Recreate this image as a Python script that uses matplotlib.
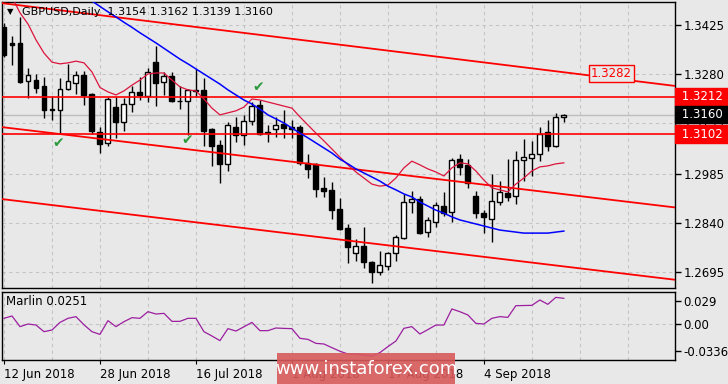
import matplotlib
matplotlib.use("Agg")
import matplotlib.pyplot as plt
import matplotlib.transforms as mtransforms
from matplotlib.patches import Rectangle
import numpy as np

# GBPUSD daily candles, 12 Jun 2018 .. 18 Sep 2018
opens = [1.3418, 1.3371, 1.3372, 1.3259, 1.3262, 1.3244, 1.3175, 1.3173, 1.3236, 1.3253,
         1.3277, 1.3221, 1.3108, 1.3076, 1.3182, 1.3138, 1.3191, 1.3227, 1.3215, 1.3315,
         1.3256, 1.3274, 1.3201, 1.3200, 1.3233, 1.3233, 1.3117, 1.3070, 1.3014, 1.3123,
         1.3099, 1.3141, 1.3188, 1.3108, 1.3117, 1.3132, 1.3123, 1.3123, 1.3017, 1.3014,
         1.2943, 1.2937, 1.2880, 1.2824, 1.2750, 1.2771, 1.2723, 1.2694, 1.2712, 1.2750,
         1.2794, 1.2901, 1.2910, 1.2812, 1.2842, 1.2889, 1.2872, 1.3028, 1.3011, 1.2919,
         1.2869, 1.2851, 1.2901, 1.2928, 1.2919, 1.3025, 1.3031, 1.3043, 1.3108, 1.3067,
         1.3154]
highs = [1.3430, 1.3392, 1.3449, 1.3298, 1.3280, 1.3271, 1.3215, 1.3268, 1.3310, 1.3289,
         1.3289, 1.3224, 1.3123, 1.3212, 1.3212, 1.3209, 1.3244, 1.3271, 1.3298, 1.3363,
         1.3286, 1.3286, 1.3244, 1.3236, 1.3295, 1.3268, 1.3120, 1.3085, 1.3138, 1.3153,
         1.3159, 1.3197, 1.3203, 1.3129, 1.3153, 1.3173, 1.3144, 1.3129, 1.3043, 1.3016,
         1.2975, 1.2960, 1.2913, 1.2836, 1.2792, 1.2827, 1.2726, 1.2756, 1.2753, 1.2803,
         1.2925, 1.2934, 1.2919, 1.2857, 1.2901, 1.2931, 1.3031, 1.3043, 1.3028, 1.2934,
         1.2877, 1.2984, 1.2963, 1.3028, 1.3052, 1.3088, 1.3082, 1.3123, 1.3144, 1.3165,
         1.3162]
lows = [1.3330, 1.3307, 1.3253, 1.3209, 1.3224, 1.3150, 1.3144, 1.3102, 1.3233, 1.3221,
        1.3188, 1.3102, 1.3046, 1.3067, 1.3091, 1.3111, 1.3167, 1.3203, 1.3197, 1.3185,
        1.3218, 1.3197, 1.3176, 1.3099, 1.3212, 1.3067, 1.3008, 1.2957, 1.2993, 1.3079,
        1.3070, 1.3129, 1.3099, 1.3079, 1.3094, 1.3091, 1.3091, 1.3011, 1.2972, 1.2916,
        1.2916, 1.2851, 1.2818, 1.2721, 1.2726, 1.2706, 1.2661, 1.2685, 1.2700, 1.2726,
        1.2792, 1.2869, 1.2806, 1.2797, 1.2827, 1.2860, 1.2842, 1.2981, 1.2943, 1.2854,
        1.2809, 1.2783, 1.2892, 1.2904, 1.2895, 1.2963, 1.2978, 1.3022, 1.3052, 1.3064,
        1.3139]
closes = [1.3336, 1.3366, 1.3256, 1.3277, 1.3239, 1.3173, 1.3172, 1.3236, 1.3259, 1.3277,
          1.3218, 1.3111, 1.3073, 1.3206, 1.3138, 1.3191, 1.3227, 1.3218, 1.3286, 1.3253,
          1.3274, 1.3200, 1.3199, 1.3233, 1.3230, 1.3111, 1.3067, 1.3014, 1.3129, 1.3099,
          1.3141, 1.3185, 1.3102, 1.3105, 1.3129, 1.3120, 1.3117, 1.3017, 1.2999, 1.2940,
          1.2934, 1.2877, 1.2821, 1.2768, 1.2771, 1.2723, 1.2694, 1.2715, 1.2750, 1.2797,
          1.2901, 1.2910, 1.2809, 1.2848, 1.2892, 1.2869, 1.3025, 1.3005, 1.2957, 1.2869,
          1.2857, 1.2904, 1.2931, 1.2916, 1.3025, 1.3034, 1.3043, 1.3102, 1.3067, 1.3153,
          1.3160]

# fast moving average (crimson), first bar not drawn
ma_fast = [np.nan, 1.3508, 1.3461, 1.3428, 1.3381, 1.3342, 1.3315, 1.3310, 1.3313, 1.3318,
           1.3313, 1.3286, 1.3240, 1.3227, 1.3218, 1.3230, 1.3247, 1.3262, 1.3280, 1.3283,
           1.3283, 1.3262, 1.3242, 1.3233, 1.3230, 1.3206, 1.3179, 1.3159, 1.3165, 1.3171,
           1.3182, 1.3206, 1.3203, 1.3197, 1.3191, 1.3185, 1.3179, 1.3153, 1.3129, 1.3105,
           1.3082, 1.3058, 1.3034, 1.3011, 1.2990, 1.2972, 1.2954, 1.2948, 1.2951, 1.2972,
           1.3002, 1.3022, 1.3011, 1.2999, 1.2990, 1.2978, 1.3002, 1.3017, 1.3014, 1.2993,
           1.2966, 1.2943, 1.2937, 1.2931, 1.2954, 1.2972, 1.2993, 1.3005, 1.3008, 1.3014,
           1.3017]
# slow moving average (blue), starts at bar 11
ma_slow_start = 11
ma_slow = [1.3496, 1.3480, 1.3464, 1.3449, 1.3433, 1.3418, 1.3402, 1.3387, 1.3372, 1.3356,
           1.3340, 1.3324, 1.3310, 1.3295, 1.3280, 1.3265, 1.3250, 1.3233, 1.3218, 1.3203,
           1.3191, 1.3176, 1.3159, 1.3147, 1.3135, 1.3120, 1.3105, 1.3091, 1.3076, 1.3061,
           1.3046, 1.3028, 1.3014, 1.2999, 1.2987, 1.2975, 1.2963, 1.2948, 1.2937, 1.2925,
           1.2916, 1.2901, 1.2889, 1.2877, 1.2868, 1.2857, 1.2848, 1.2842, 1.2836, 1.2830,
           1.2824, 1.2818, 1.2815, 1.2812, 1.2809, 1.2809, 1.2809, 1.2809, 1.2812, 1.2815]

# Marlin oscillator
marlin = [0.0071, 0.0100, -0.0033, 0.0000, -0.0013, -0.0096, -0.0075, 0.0020, 0.0071, 0.0092,
          -0.0010, -0.0096, -0.0130, 0.0042, -0.0033, 0.0029, 0.0079, 0.0071, 0.0154, 0.0125,
          0.0133, 0.0033, 0.0033, 0.0071, 0.0071, -0.0096, -0.0150, -0.0208, -0.0058, -0.0088,
          -0.0035, 0.0020, -0.0083, -0.0083, -0.0050, -0.0055, -0.0058, -0.0179, -0.0192, -0.0242,
          -0.0250, -0.0296, -0.0340, -0.0375, -0.0375, -0.0388, -0.0400, -0.0358, -0.0283, -0.0213,
          -0.0054, -0.0033, -0.0125, -0.0070, -0.0013, -0.0013, 0.0188, 0.0154, 0.0113, 0.0008,
          0.0000, 0.0071, 0.0092, 0.0083, 0.0229, 0.0231, 0.0233, 0.0300, 0.0246, 0.0333,
          0.0321]

# descending channel: prices at bar 0 and bar 80
channel_bars = [0, 80]
channel_top = [1.3489, 1.3256]
channel_mid = [1.3122, 1.2896]
channel_low = [1.2909, 1.2682]

level_high = 1.3212
level_low = 1.3102
last_price = 1.3160
channel_label = 1.3282

price_ticks = [1.3425, 1.3280, 1.3135, 1.2985, 1.2840, 1.2695]
marlin_ticks = [0.029, 0.0, -0.0336]
marlin_tick_labels = ['0.029', '0.00', '-0.0336']
date_bars = [0, 12, 24, 36, 48, 60]
date_labels = ['12 Jun 2018', '28 Jun 2018', '16 Jul 2018', '1 Aug 2018', '17 Aug 2018', '4 Sep 2018']

BG = '#e8e8e8'
GRID = '#c4c4c4'

W, H = 728, 384
fig = plt.figure(figsize=(W / 100, H / 100), dpi=100, facecolor=BG)
plt.rcParams['font.family'] = ['DejaVu Sans']

ax = fig.add_axes([2 / W, 1 - 288 / H, 673 / W, 286 / H], facecolor=BG)
axm = fig.add_axes([2 / W, 1 - 360 / H, 673 / W, 68 / H], facecolor=BG, sharex=ax)

x = np.arange(len(opens))
o = np.array(opens); c = np.array(closes)
up = c >= o

# grid
for a in (ax, axm):
    for xv in np.arange(0, 84, 6):
        a.axvline(xv, color=GRID, lw=0.8, ls=(0, (3, 3)), zorder=0)
for p in price_ticks:
    ax.axhline(p, color=GRID, lw=0.8, ls=(0, (3, 3)), zorder=0)
axm.axhline(0, color=GRID, lw=0.8, ls=(0, (3, 3)), zorder=0)

# levels and channel
ax.axhline(last_price, color='#bdbdbd', lw=1, zorder=1)
ax.axhline(level_high, color='red', lw=1.2, zorder=4)
ax.axhline(level_low, color='red', lw=1.2, zorder=4)
for line in (channel_top, channel_mid, channel_low):
    ax.axline((channel_bars[0], line[0]), (channel_bars[1], line[1]), color='red', lw=1.3, zorder=4)

# candles
ax.vlines(x, lows, highs, color='black', lw=1, zorder=2)
ax.bar(x[up], (c - o)[up], bottom=o[up], width=0.62, color='white', edgecolor='black', lw=1, zorder=3)
ax.bar(x[~up], (o - c)[~up], bottom=c[~up], width=0.62, color='black', edgecolor='black', lw=1, zorder=3)

# moving averages
ax.plot(x, ma_fast, color='#dc143c', lw=0.9, zorder=5)
ax.plot(np.arange(ma_slow_start, ma_slow_start + len(ma_slow)), ma_slow, color='#0000ff', lw=1.1, zorder=5)

# check marks
for bx, py in [(6.8, 1.3076), (22.9, 1.3085), (31.8, 1.3241)]:
    ax.text(bx, py, '\u2714', color='#2a9a3c', fontsize=10, ha='center', va='center', zorder=6)

ax.text(73.4, channel_label, '1.3282', color='red', fontsize=8.5, ha='left', va='center', zorder=6,
        bbox=dict(boxstyle='square,pad=0.15', facecolor=BG, edgecolor='red', lw=1))

ax.set_xlim(-0.25, 83.9)
ax.set_ylim(1.26465, 1.34931)
axm.set_ylim(-0.045, 0.040)

# right-hand scales
for a in (ax, axm):
    a.yaxis.tick_right()
    a.tick_params(axis='y', direction='out', length=4, width=1, labelsize=8.5, pad=2, colors='black')
    for s in a.spines.values():
        s.set_color('black'); s.set_linewidth(1)
ax.set_yticks(price_ticks)
ax.set_yticklabels(['%.4f' % p for p in price_ticks])
ax.tick_params(axis='x', bottom=False, labelbottom=False)
axm.set_yticks(marlin_ticks)
axm.set_yticklabels(marlin_tick_labels)
axm.set_xticks(date_bars)
axm.set_xticklabels(date_labels, ha='left', fontsize=8.5)
axm.tick_params(axis='x', direction='out', length=3, pad=3)

tr = mtransforms.blended_transform_factory(ax.transAxes, ax.transData)
for val, bg in [(level_high, 'red'), (last_price, 'black'), (level_low, 'red')]:
    ax.text(1.004, val, ' %.4f ' % val, transform=tr, color='white', fontsize=8.5, ha='left', va='center',
            zorder=7, clip_on=False, bbox=dict(boxstyle='square,pad=0.2', facecolor=bg, edgecolor=bg))

# Marlin line
axm.plot(x, marlin, color='#9b1fa0', lw=0.9)
axm.text(0.006, 0.86, 'Marlin 0.0251', transform=axm.transAxes, fontsize=8.5, va='center', ha='left')

# title
ax.text(0.008, 0.965, '\u25bc', transform=ax.transAxes, fontsize=6, va='center', ha='left')
ax.text(0.029, 0.965, 'GBPUSD,Daily  1.3154 1.3162 1.3139 1.3160', transform=ax.transAxes,
        fontsize=8, va='center', ha='left', zorder=8)

# watermark
fig.patches.append(Rectangle((277 / W, 0), 178 / W, 31 / H, transform=fig.transFigure,
                             facecolor='#d85a5a', alpha=0.9, zorder=10))
fig.text(366 / W, 15 / H, 'www.instaforex.com', color='white', fontsize=13, ha='center', va='center', zorder=11)

fig.savefig('out.png', dpi=100, facecolor=BG)
